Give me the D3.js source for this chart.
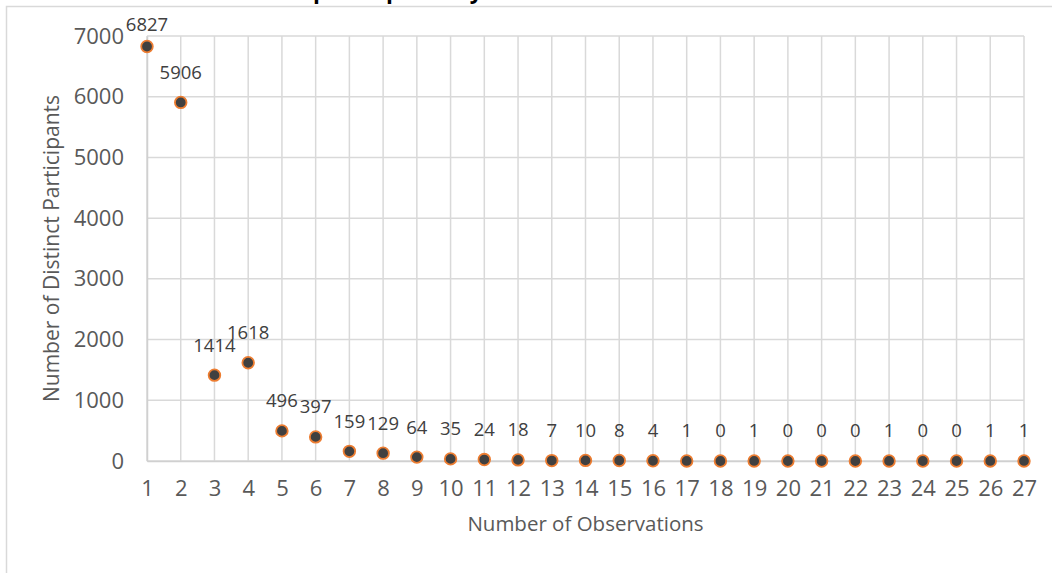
<!DOCTYPE html>
<html>
<head>
<meta charset="utf-8">
<script src="https://cdn.jsdelivr.net/npm/d3@7"></script>
<style>
  body { margin: 0; background: #fff; }
  svg { display: block; font-family: "Open Sans", sans-serif; }
</style>
</head>
<body>
<div id="chart"></div>
<script>
// observation counts and how many distinct participants had each
const observations = d3.range(1, 28).map(String);
const participants = [6827, 5906, 1414, 1618, 496, 397, 159, 129, 64, 35, 24, 18, 7, 10, 8, 4, 1, 0, 1, 0, 0, 0, 1, 0, 0, 1, 1];
const yTicks = [0, 1000, 2000, 3000, 4000, 5000, 6000, 7000];

const chartTitle = "Distinct participants by number of observations";
const xTitle = "Number of Observations";
const yTitle = "Number of Distinct Participants";

const W = 1052, H = 573;
const margin = { top: 36, right: 28, bottom: 112, left: 147 };

const svg = d3.select("#chart").append("svg")
    .attr("width", W)
    .attr("height", H);

// chart area border (runs off the bottom / right like the screenshot)
svg.append("rect")
    .attr("x", 6.5).attr("y", 6.5)
    .attr("width", W + 20).attr("height", H + 20)
    .attr("fill", "none")
    .attr("stroke", "#d9d9d9")
    .attr("stroke-width", 1.5);

// title sits above the crop, only its descenders show
const title = svg.append("text")
    .attr("x", 0)
    .attr("y", -2)
    .attr("font-size", 22.5)
    .attr("font-weight", "bold")
    .attr("fill", "#000")
    .text(chartTitle);
const pIdx = chartTitle.indexOf("p");
const pPos = title.node().getStartPositionOfChar(pIdx).x;
title.attr("x", 313 - pPos);

const x = d3.scalePoint()
    .domain(observations)
    .range([margin.left, W - margin.right]);

const y = d3.scaleLinear()
    .domain([0, 7000])
    .range([H - margin.bottom, margin.top]);

// gridlines
svg.append("g")
    .selectAll("line")
    .data(yTicks)
    .join("line")
    .attr("x1", margin.left).attr("x2", W - margin.right)
    .attr("y1", d => y(d)).attr("y2", d => y(d))
    .attr("stroke", "#d9d9d9")
    .attr("stroke-width", 1.5);

svg.append("g")
    .selectAll("line")
    .data(observations)
    .join("line")
    .attr("x1", d => x(d)).attr("x2", d => x(d))
    .attr("y1", y(0)).attr("y2", y(7000))
    .attr("stroke", "#d9d9d9")
    .attr("stroke-width", 1.5);

// axes
const xAxis = svg.append("g")
    .attr("transform", `translate(0,${y(0)})`)
    .call(d3.axisBottom(x).tickSize(0).tickPadding(19));
xAxis.select(".domain").attr("stroke", "#d0d0d0").attr("stroke-width", 1.5);
xAxis.selectAll("text")
    .attr("font-family", "Open Sans, sans-serif")
    .attr("font-size", 22)
    .attr("fill", "#595959");

const yAxis = svg.append("g")
    .attr("transform", `translate(${margin.left},0)`)
    .call(d3.axisLeft(y).tickValues(yTicks).tickFormat(d3.format("d")).tickSize(0).tickPadding(23));
yAxis.select(".domain").attr("stroke", "#d0d0d0").attr("stroke-width", 1.5);
yAxis.selectAll("text")
    .attr("font-family", "Open Sans, sans-serif")
    .attr("font-size", 22)
    .attr("fill", "#595959");

// axis titles
svg.append("text")
    .attr("x", (margin.left + W - margin.right) / 2)
    .attr("y", 531)
    .attr("text-anchor", "middle")
    .attr("font-size", 20.5)
    .attr("fill", "#595959")
    .text(xTitle);

svg.append("text")
    .attr("transform", `translate(59,${(y(0) + y(7000)) / 2}) rotate(-90)`)
    .attr("text-anchor", "middle")
    .attr("font-size", 21)
    .attr("fill", "#595959")
    .text(yTitle);

// points
const pts = observations.map((o, i) => ({ obs: o, value: participants[i] }));

svg.append("g")
    .selectAll("circle")
    .data(pts)
    .join("circle")
    .attr("cx", d => x(d.obs))
    .attr("cy", d => y(d.value))
    .attr("r", 5.8)
    .attr("fill", "#404040")
    .attr("stroke", "#ed7d31")
    .attr("stroke-width", 1.8);

// data labels
svg.append("g")
    .selectAll("text")
    .data(pts)
    .join("text")
    .attr("x", d => x(d.obs))
    .attr("y", d => Math.max(y(d.value) - 30, 25))
    .attr("dy", "0.35em")
    .attr("text-anchor", "middle")
    .attr("font-size", 18.5)
    .attr("fill", "#404040")
    .text(d => d.value);
</script>
</body>
</html>
